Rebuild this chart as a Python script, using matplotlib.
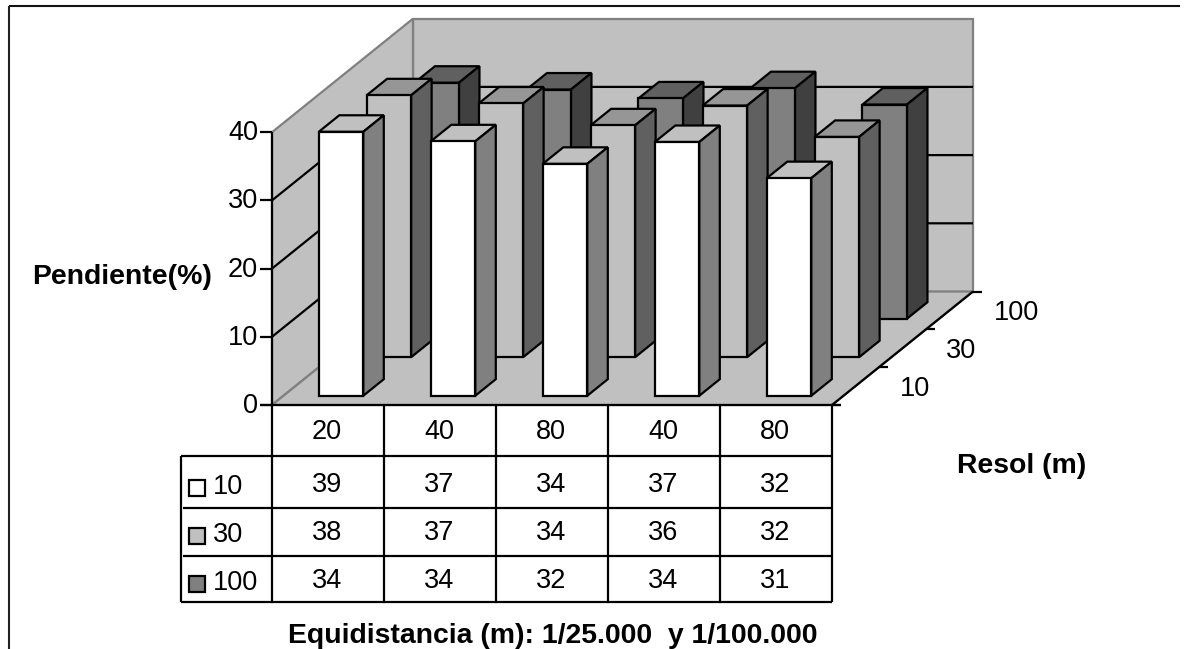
# pendiente vs equidistancia, 3D column chart with data table

import matplotlib
matplotlib.use('Agg')
import matplotlib.pyplot as plt
from matplotlib.patches import Polygon, Rectangle

plt.rcParams['font.family'] = ['Liberation Sans', 'DejaVu Sans']


# data

categories = ['20', '40', '80', '40', '80']
series_names = ['10', '30', '100']
z_ticks = [0, 10, 20, 30, 40]

# bar heights
heights_10 = [38.7, 37.3, 34.0, 37.2, 31.9]
heights_30 = [38.4, 37.2, 34.0, 36.9, 32.3]
heights_100 = [34.6, 33.6, 32.3, 33.8, 31.4]

# values printed in the table
table_10 = ['39', '37', '34', '37', '32']
table_30 = ['38', '37', '34', '36', '32']
table_100 = ['34', '34', '32', '34', '31']

heights = [heights_10, heights_30, heights_100]
table_values = [table_10, table_30, table_100]

front_colors = ['#ffffff', '#c0c0c0', '#808080']
top_colors = ['#c0c0c0', '#969696', '#606060']
side_colors = ['#808080', '#606060', '#404040']


# layout (pixels)

x0 = 272
y0 = 405
cat_width = 112
z_scale = 6.82
depth_x = 141
depth_y = 113.5
row_offset = 9.3
row_pitch = 38.5
bar_width = 44.5
bar_depth = 16.5
wall_color = '#c0c0c0'
edge_gray = '#808080'
lw = 1.6
font_size = 19.5
title_size = 20.4


def project(x, d, z):
    # x: pixels along the front, d: pixels into the depth, z: value on the vertical axis
    return (x0 + x + d * depth_x / depth_y, y0 - d - z * z_scale)


def poly(ax, points, color, edge='black', width=lw, order=2):
    ax.add_patch(Polygon(points, closed=True, facecolor=color, edgecolor=edge, linewidth=width, joinstyle='miter', zorder=order))


def line(ax, xs, ys, color='black', width=lw, order=3):
    ax.plot(xs, ys, color=color, linewidth=width, solid_capstyle='butt', zorder=order)


fig = plt.figure(figsize=(11.9, 6.49), dpi=100)
ax = fig.add_axes([0, 0, 1, 1])
ax.set_xlim(0, 1190)
ax.set_ylim(649, 0)
ax.axis('off')

# outer frame, the bottom and right sides are cut off

line(ax, [8.5, 1180], [6, 6], color='#111111', width=1.5)
line(ax, [8.5, 8.5], [6, 649], color='#222222', width=1.5)

# walls and floor

n = len(categories)
width_total = n * cat_width
z_max = z_ticks[-1]

poly(ax, [project(0, depth_y, 0), project(width_total, depth_y, 0), project(width_total, depth_y, z_max), project(0, depth_y, z_max)], wall_color, edge=edge_gray, order=1)
poly(ax, [project(0, 0, 0), project(0, depth_y, 0), project(0, depth_y, z_max), project(0, 0, z_max)], wall_color, edge=edge_gray, order=1)
poly(ax, [project(0, 0, 0), project(width_total, 0, 0), project(width_total, depth_y, 0), project(0, depth_y, 0)], wall_color, edge=edge_gray, order=1)

for z in z_ticks[1:-1]:
    a = project(0, 0, z)
    b = project(0, depth_y, z)
    c = project(width_total, depth_y, z)
    line(ax, [a[0], b[0], c[0]], [a[1], b[1], c[1]], order=1.5)

# bars, back row first

for i in reversed(range(len(series_names))):
    d1 = row_offset + i * row_pitch
    d2 = d1 + bar_depth
    order = 2 + (len(series_names) - i)
    for j in range(n):
        x1 = (j + 0.5) * cat_width - bar_width / 2 + 1.5
        x2 = x1 + bar_width
        z = heights[i][j]
        poly(ax, [project(x1, d1, z), project(x2, d1, z), project(x2, d2, z), project(x1, d2, z)], top_colors[i], order=order)
        poly(ax, [project(x2, d1, 0), project(x2, d2, 0), project(x2, d2, z), project(x2, d1, z)], side_colors[i], order=order)
        poly(ax, [project(x1, d1, 0), project(x2, d1, 0), project(x2, d1, z), project(x1, d1, z)], front_colors[i], order=order)

# vertical axis

a = project(0, 0, 0)
b = project(0, 0, z_max)
line(ax, [a[0], b[0]], [a[1], b[1]], order=6)
for z in z_ticks:
    p = project(0, 0, z)
    line(ax, [p[0] - 12, p[0]], [p[1], p[1]], order=6)
    ax.text(p[0] - 14, p[1] + 1, str(z), ha='right', va='center', fontsize=font_size, zorder=7)

# depth axis

a = project(width_total, 0, 0)
b = project(width_total, depth_y, 0)
line(ax, [a[0], b[0]], [a[1], b[1]], order=6)
for k in range(len(series_names) + 1):
    p = project(width_total, k * depth_y / len(series_names), 0)
    line(ax, [p[0], p[0] + 9], [p[1], p[1]], order=6)
for k, name in enumerate(series_names):
    p = project(width_total, (k + 0.5) * depth_y / len(series_names), 0)
    ax.text(p[0] + 59 if k < 2 else p[0] + 67, p[1] + 3, name, ha='center', va='center', fontsize=font_size, zorder=7)

# table under the chart

table_left = 181
row_lines = [y0, 456, 507.5, 555.5, 602]
header_y = 432
row_text_y = [485.5, 533.5, 581.5]
key_y = [488, 536, 584]

line(ax, [x0 - 12, x0 + width_total + 9], [y0, y0], order=6)
line(ax, [table_left, x0 + width_total], [row_lines[1], row_lines[1]])
line(ax, [table_left + 2, x0 + width_total], [row_lines[2], row_lines[2]])
line(ax, [table_left + 2, x0 + width_total], [row_lines[3], row_lines[3]])
line(ax, [table_left, x0 + width_total], [row_lines[4], row_lines[4]])
line(ax, [table_left, table_left], [row_lines[1], row_lines[4]])
for j in range(n + 1):
    xv = x0 + j * cat_width
    line(ax, [xv, xv], [y0, row_lines[4]])

for j, cat in enumerate(categories):
    xc = x0 + (j + 0.5) * cat_width - 1
    ax.text(xc, header_y, cat, ha='center', va='center', fontsize=font_size)
    for i in range(len(series_names)):
        ax.text(xc, row_text_y[i], table_values[i][j], ha='center', va='center', fontsize=font_size)

for i, name in enumerate(series_names):
    ax.add_patch(Rectangle((189, key_y[i] - 8), 16, 16, facecolor=front_colors[i], edgecolor='black', linewidth=lw, zorder=4))
    ax.text(213, row_text_y[i] + 1, name, ha='left', va='center', fontsize=font_size)

# axis titles

ax.text(122, 277, 'Pendiente(%)', ha='center', va='center', fontsize=title_size, fontweight='bold')
ax.text(1022, 466, 'Resol (m)', ha='center', va='center', fontsize=title_size, fontweight='bold')
ax.text(553, 636, 'Equidistancia (m): 1/25.000  y 1/100.000', ha='center', va='center', fontsize=title_size, fontweight='bold')

fig.savefig('out.png', dpi=100)
